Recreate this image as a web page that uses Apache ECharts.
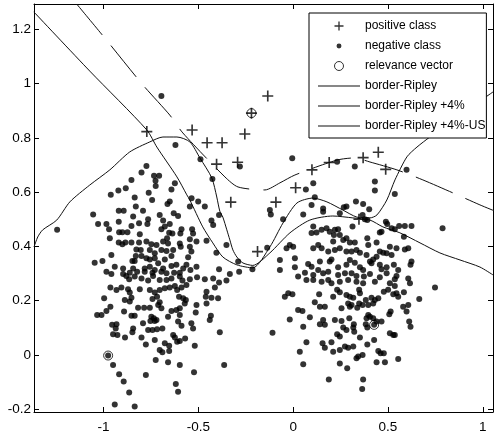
<!DOCTYPE html>
<html>
<head>
<meta charset="utf-8">
<script src="https://cdn.jsdelivr.net/npm/echarts@6/dist/echarts.min.js"></script>
<style>
  html, body { margin: 0; padding: 0; background: #fff; }
  #chart { width: 496px; height: 437px; }
</style>
</head>
<body>
<div id="chart"></div>
<script>
// Axis ticks
const xTicks = [-1, -0.5, 0, 0.5, 1];
const yTicks = [-0.2, 0, 0.2, 0.4, 0.6, 0.8, 1, 1.2];

// Positive class samples (+)
const positiveClass = [
  [-0.772,0.823],[-0.533,0.829],[-0.454,0.782],[-0.375,0.782],[-0.255,0.814],
  [-0.404,0.703],[-0.293,0.710],[-0.329,0.563],[-0.091,0.563],[0.013,0.616],
  [0.099,0.682],[0.190,0.709],[-0.188,0.381],[-0.220,0.891],[-0.134,0.954],
  [0.347,0.500],[0.449,0.747],[0.488,0.684],[0.369,0.727]
];

// Negative class samples (.)
const negativeClass = [
  [-0.695,0.954],
  [-0.621,0.774],[-0.774,0.696],[-0.800,0.672],[-0.734,0.660],[-0.707,0.660],[-0.726,0.642],
  [-0.853,0.645],[-0.624,0.633],[-0.725,0.623],[-0.922,0.606],[-0.883,0.614],[-0.962,0.590],
  [-0.762,0.598],[-0.642,0.610],[-0.836,0.580],[-0.744,0.571],[-1.245,0.461],
  [-0.536,0.577],[-0.489,0.721],[-0.426,0.648],[-0.281,0.694],[-0.005,0.725],[-0.123,0.534],
  [-0.118,0.518],[-0.137,0.395],[0.232,0.712],[0.325,0.694],[0.598,0.682],[-0.109,0.082],
  [-1.055,0.518],[-0.920,0.531],[-0.894,0.531],[-0.830,0.547],[-0.792,0.531],[-0.844,0.510],
  [-0.765,0.500],[-0.704,0.516],[-0.663,0.556],[-0.651,0.565],[-0.630,0.522],[-0.607,0.512],
  [-0.545,0.547],[-0.501,0.565],[-0.466,0.547],[-0.391,0.516],[-1.029,0.483],[-0.985,0.483],
  [-0.971,0.463],[-0.920,0.491],[-0.853,0.475],[-0.813,0.485],[-0.769,0.483],[-0.686,0.495],
  [-0.677,0.473],[-0.651,0.483],[-0.589,0.463],[-0.528,0.448],[-0.431,0.495],[-0.422,0.479],
  [-0.918,0.452],[-0.901,0.452],[-0.874,0.452],[-0.809,0.445],[-0.967,0.430],[-0.695,0.463],
  [-0.654,0.450],[-0.637,0.448],[-0.595,0.448],[-0.533,0.463],[-0.920,0.414],[-0.901,0.408],
  [-0.885,0.414],[-0.853,0.414],[-0.813,0.414],[-0.774,0.418],[-0.748,0.408],[-0.721,0.405],
  [-0.686,0.418],[-0.665,0.430],[-0.660,0.411],[-0.598,0.411],[-0.545,0.426],[-0.510,0.418],
  [-0.457,0.421],[-0.352,0.405],[-0.827,0.389],[-0.804,0.387],[-0.756,0.387],[-0.730,0.375],
  [-0.695,0.387],[-0.668,0.383],[-0.633,0.387],[-0.593,0.399],[-0.545,0.399],[-0.959,0.368],
  [-0.830,0.365],[-0.800,0.365],[-0.774,0.356],[-0.756,0.352],[-0.730,0.356],[-0.677,0.352],
  [-0.642,0.365],[-0.554,0.360],[-0.537,0.381],[-0.405,0.377],[-1.047,0.340],[-1.006,0.346],
  [-0.848,0.346],[-0.836,0.346],[-0.941,0.325],[-0.897,0.319],[-0.844,0.319],[-0.823,0.307],
  [-0.783,0.319],[-0.756,0.325],[-0.712,0.338],[-0.686,0.319],[-0.642,0.328],[-0.616,0.332],
  [-0.580,0.319],[-0.563,0.332],[-0.542,0.313],[-0.510,0.325],[-0.391,0.316],[-0.290,0.344],
  [-0.285,0.307],[-0.215,0.316],[-0.985,0.307],[-0.959,0.298],[-0.897,0.298],[-0.862,0.303],
  [-0.783,0.307],[-0.742,0.303],[-0.730,0.313],[-0.695,0.307],[-0.668,0.301],[-0.628,0.303],
  [-0.598,0.303],[-0.880,0.291],[-0.865,0.279],[-0.836,0.289],[-0.800,0.282],[-0.765,0.274],
  [-0.739,0.291],[-0.704,0.276],[-0.668,0.276],[-0.642,0.282],[-0.598,0.289],[-0.584,0.274],
  [-0.545,0.279],[-0.507,0.286],[-0.466,0.279],[-0.422,0.282],[-0.352,0.274],[-0.334,0.298],
  [-0.964,0.249],[-0.932,0.239],[-0.906,0.249],[-0.871,0.242],[-0.862,0.230],[-0.809,0.242],
  [-0.756,0.239],[-0.730,0.230],[-0.704,0.239],[-0.677,0.246],[-0.651,0.249],[-0.624,0.254],
  [-0.612,0.239],[-0.589,0.249],[-0.563,0.258],[-0.457,0.233],[-0.413,0.249],[-0.391,0.267],
  [-0.997,0.209],[-0.888,0.203],[-0.862,0.197],[-0.853,0.211],[-0.742,0.206],[-0.718,0.215],
  [-0.704,0.194],[-0.695,0.172],[-0.712,0.184],[-0.602,0.215],[-0.580,0.209],[-0.566,0.203],
  [-0.572,0.190],[-0.598,0.172],[-0.616,0.166],[-0.642,0.162],[-0.461,0.215],[-0.431,0.211],
  [-0.396,0.209],[-0.510,0.184],[-0.514,0.157],[-0.457,0.190],[-1.034,0.147],[-1.011,0.147],
  [-0.985,0.162],[-0.964,0.178],[-0.892,0.160],[-0.853,0.145],[-0.836,0.145],[-0.818,0.174],
  [-0.786,0.174],[-0.756,0.174],[-0.748,0.141],[-0.735,0.135],[-0.730,0.125],[-0.721,0.129],
  [-0.753,0.125],[-0.660,0.141],[-0.598,0.147],[-0.607,0.123],[-0.589,0.108],[-0.537,0.117],
  [-0.434,0.145],[-0.440,0.129],[-0.955,0.111],[-0.932,0.113],[-0.936,0.098],[-0.950,0.076],
  [-0.927,0.074],[-0.844,0.098],[-0.848,0.084],[-0.792,0.117],[-0.765,0.092],[-0.742,0.092],
  [-0.718,0.095],[-0.690,0.098],[-0.633,0.074],[-0.624,0.064],[-0.612,0.049],[-0.598,0.052],
  [-0.570,0.061],[-0.528,0.098],[-0.887,0.064],[-0.800,0.064],[-0.730,0.055],[-0.777,0.039],
  [-0.677,0.043],[-0.654,0.034],[-0.519,0.034],[-0.387,0.084],[-0.704,0.018],[-0.690,0.010],
  [-0.654,0.015],[-0.725,-0.018],[-0.660,-0.027],[-0.598,-0.037],[-0.950,-0.037],[-0.976,-0.002],
  [-0.364,-0.037],[-0.523,-0.064],[-0.918,-0.071],[-0.777,-0.074],
  [-0.894,-0.098],[-0.865,-0.138],[-0.941,-0.182],[-0.836,-0.190],[-0.619,-0.107],[-0.607,-0.135],
  [0.285,-0.049],[0.369,-0.090],[0.364,-0.125],[0.188,-0.090],
  [-0.026,0.227],[-0.004,0.224],[-0.044,0.215],[0.137,0.224],[0.211,0.215],[0.232,0.240],
  [0.246,0.231],[0.281,0.221],[0.299,0.215],[0.290,0.190],[0.308,0.184],[0.317,0.211],
  [0.348,0.240],[0.352,0.227],[0.383,0.203],[0.413,0.211],[0.431,0.203],[0.449,0.209],
  [0.478,0.233],[0.501,0.240],[0.528,0.224],[0.545,0.227],[0.554,0.215],[0.584,0.231],
  [0.665,0.206],[0.114,0.194],[0.141,0.178],[0.167,0.178],[0.255,0.172],[0.299,0.178],
  [0.338,0.174],[0.366,0.184],[0.348,0.190],[0.396,0.184],[0.422,0.190],[0.026,0.166],
  [0.049,0.162],[0.088,0.139],[-0.018,0.131],[0.158,0.129],[0.220,0.129],[0.255,0.125],
  [0.296,0.135],[0.320,0.113],[0.167,0.111],[0.141,0.113],[0.264,0.101],[0.281,0.092],
  [0.317,0.101],[0.322,0.086],[0.387,0.135],[0.396,0.147],[0.405,0.141],[0.422,0.135],
  [0.383,0.113],[0.391,0.101],[0.440,0.123],[0.466,0.123],[0.514,0.160],[0.507,0.150],
  [0.580,0.178],[0.607,0.184],[0.598,0.160],[0.612,0.123],[0.619,0.104],[0.053,0.104],
  [0.232,0.076],[0.246,0.068],[0.352,0.064],[0.427,0.055],[0.391,0.039],[0.510,0.080],
  [0.528,0.074],[0.536,0.074],[0.070,0.047],[0.155,0.043],[0.167,0.027],[0.202,0.047],
  [0.273,0.031],[0.290,0.027],[0.317,0.031],[0.211,0.012],[0.246,0.018],[0.035,0.012],
  [0.334,-0.012],[0.343,-0.006],[0.366,0.000],[0.449,0.015],[0.461,0.006],[0.478,0.006],
  [0.554,-0.015],[0.053,-0.034],[0.246,-0.031],[0.440,-0.027],[0.484,-0.027],[0.427,0.111],
  [0.067,0.610],[0.106,0.633],[0.114,0.581],[0.097,0.553],[0.158,0.540],[0.158,0.528],
  [0.053,0.518],[-0.053,0.500],[0.246,0.522],[0.267,0.544],[0.281,0.547],[0.331,0.565],
  [0.369,0.556],[0.401,0.537],[0.366,0.516],[0.378,0.500],[0.391,0.497],[0.313,0.473],
  [0.431,0.606],[0.431,0.639],[0.536,0.593],[0.489,0.491],[0.496,0.483],[0.519,0.467],
  [0.536,0.463],[0.559,0.475],[0.589,0.475],[0.624,0.475],[0.788,0.467],[0.106,0.473],
  [0.097,0.449],[0.123,0.451],[0.150,0.461],[0.176,0.467],[0.193,0.454],[0.220,0.461],
  [0.237,0.463],[0.215,0.442],[0.246,0.442],[0.264,0.424],[0.211,0.418],[0.281,0.430],
  [0.299,0.414],[0.325,0.414],[0.391,0.430],[0.457,0.451],[0.466,0.454],[0.396,0.405],
  [0.440,0.414],[0.457,0.381],[0.475,0.377],[0.493,0.375],[0.519,0.368],[0.510,0.399],
  [0.545,0.393],[0.584,0.436],[0.589,0.389],[0.607,0.393],[0.106,0.393],[0.150,0.393],
  [0.132,0.405],[0.185,0.381],[0.220,0.387],[0.246,0.393],[0.281,0.381],[0.308,0.381],
  [0.334,0.387],[0.352,0.377],[0.387,0.368],[0.422,0.352],[0.413,0.338],[0.440,0.362],
  [-0.070,0.350],[0.009,0.356],[-0.018,0.405],[-0.035,0.393],[0.000,0.399],[0.079,0.335],
  [0.097,0.325],[0.141,0.344],[0.193,0.344],[0.202,0.352],[0.237,0.323],[0.281,0.332],
  [0.299,0.350],[0.325,0.340],[0.352,0.323],[0.369,0.313],[0.405,0.344],[0.457,0.332],
  [0.466,0.316],[0.493,0.323],[0.531,0.332],[0.554,0.313],[0.624,0.344],[0.619,0.332],
  [-0.070,0.313],[0.009,0.323],[0.062,0.303],[0.106,0.295],[0.132,0.313],[0.158,0.301],
  [0.185,0.307],[0.237,0.295],[0.273,0.301],[0.308,0.301],[0.334,0.291],[0.373,0.289],
  [0.405,0.298],[0.457,0.286],[0.493,0.301],[0.545,0.291],[0.536,0.279],[0.607,0.282],
  [0.026,0.289],[0.070,0.276],[0.106,0.276],[0.150,0.270],[0.185,0.276],[0.202,0.264],
  [0.246,0.270],[0.290,0.276],[0.334,0.270],[0.369,0.264],[0.431,0.270],[0.510,0.264],
  [0.536,0.254],[0.616,0.264],[0.748,0.249]
];

// Relevance vectors (o)
const relevanceVectors = [[-0.220,0.891],[-0.976,-0.002],[0.427,0.111]];

// Decision borders
const borderRipley = [
  [-1.367,0.398],[-1.347,0.435],[-1.321,0.461],[-1.247,0.497],[-1.178,0.564],[-1.073,0.626],
  [-0.967,0.682],[-0.862,0.748],[-0.756,0.785],[-0.687,0.803],[-0.613,0.803],[-0.545,0.785],
  [-0.492,0.726],[-0.429,0.652],[-0.403,0.582],[-0.387,0.530],[-0.371,0.508],[-0.350,0.461],
  [-0.334,0.424],[-0.318,0.387],[-0.297,0.361],[-0.265,0.339],[-0.213,0.330],[-0.123,0.376],
  [-0.017,0.450],[0.088,0.497],[0.209,0.512],[0.315,0.505],[0.405,0.497],[0.473,0.472],
  [0.563,0.450],[0.669,0.413],[0.774,0.376],[0.880,0.350],[0.985,0.324],[1.054,0.295]
];
const borderRipley4 = [
  [-1.368,1.264],[-1.073,1.046],[-0.772,0.829],[-0.719,0.766],[-0.613,0.656],[-0.561,0.590],
  [-0.545,0.571],[-0.477,0.472],[-0.424,0.413],[-0.371,0.361],[-0.297,0.332],[-0.213,0.321],
  [-0.123,0.398],[-0.054,0.486],[0.020,0.560],[0.104,0.578],[0.178,0.564],[0.262,0.534],
  [0.336,0.508],[0.405,0.505],[0.442,0.516],[0.494,0.571],[0.537,0.645],[0.600,0.730],
  [0.653,0.766],[0.721,0.803],[0.880,0.884],[1.054,0.969]
];
const borderRipley4US = [
  [-1.142,1.293],[-0.994,1.168],[-0.793,0.995],[-0.651,0.884],[-0.582,0.818],[-0.360,0.656],
  [-0.291,0.619],[-0.149,0.608],[-0.070,0.634],[0.009,0.663],[0.231,0.718],[0.325,0.726],
  [0.405,0.711],[0.547,0.682],[0.684,0.645],[0.843,0.597],[0.985,0.553],[1.075,0.527]
];

const FONT = 'Liberation Sans, Arial, Helvetica, sans-serif';
const PLUS = 'path://M8.5,0h3v8.5h8.5v3h-8.5v8.5h-3v-8.5h-8.5v-3h8.5z';
const DOT_ICON = 'path://M0,0M20,20M10,4.5A5.5,5.5 0 1,1 9.99,4.5Z';
const LINE_ICON = 'path://M0,0h42v1h-42z';

const chart = echarts.init(document.getElementById('chart'), null, { renderer: 'canvas' });

function xAxisDef(pos, labels) {
  return {
    type: 'value', position: pos, min: -1.367, max: 1.054,
    axisLine: { onZero: false, lineStyle: { color: '#000', width: 1 } },
    axisTick: { inside: true, length: 5, customValues: xTicks, lineStyle: { color: '#000' } },
    axisLabel: { show: labels, customValues: xTicks, color: '#000', fontSize: 13.5, fontFamily: FONT, margin: 8 },
    splitLine: { show: false }
  };
}
function yAxisDef(pos, labels) {
  return {
    type: 'value', position: pos, min: -0.21, max: 1.293,
    axisLine: { onZero: false, lineStyle: { color: '#000', width: 1 } },
    axisTick: { inside: true, length: 5, customValues: yTicks, lineStyle: { color: '#000' } },
    axisLabel: { show: labels, customValues: yTicks, color: '#000', fontSize: 13.5, fontFamily: FONT, margin: 3 },
    splitLine: { show: false }
  };
}

const lineSeries = (name, data, type) => ({
  name, type: 'line', data, symbol: 'none', showSymbol: false, smooth: 0.25,
  lineStyle: { color: '#111', width: 1, type }, itemStyle: { color: '#111' },
  z: 2, silent: true
});

chart.setOption({
  animation: false,
  backgroundColor: '#fff',
  grid: { left: 34, right: 3, top: 4, bottom: 25 },
  xAxis: [xAxisDef('bottom', true), xAxisDef('top', false)],
  yAxis: [yAxisDef('left', true), yAxisDef('right', false)],
  legend: {
    orient: 'vertical', left: 309, top: 13,
    padding: [6, 1, 5, 9], itemWidth: 42, itemHeight: 9, itemGap: 6,
    backgroundColor: '#fff', borderColor: '#000', borderWidth: 1, borderRadius: 0,
    selectedMode: false,
    textStyle: { fontSize: 12, fontFamily: FONT, color: '#000', lineHeight: 14 },
    data: [
      { name: 'positive class' },
      { name: 'negative class', icon: DOT_ICON },
      { name: 'relevance vector', itemStyle: { color: 'rgba(0,0,0,0)', borderColor: '#000', borderWidth: 1 } },
      { name: 'border-Ripley', icon: LINE_ICON },
      { name: 'border-Ripley +4%', icon: LINE_ICON },
      { name: 'border-Ripley +4%-US', icon: LINE_ICON }
    ]
  },
  series: [
    {
      name: 'positive class', type: 'scatter', data: positiveClass,
      symbol: PLUS, symbolSize: 11, itemStyle: { color: '#000' }, z: 4, silent: true
    },
    {
      name: 'negative class', type: 'scatter', data: negativeClass,
      symbol: 'circle', symbolSize: 6, itemStyle: { color: '#000' }, z: 3, silent: true
    },
    {
      name: 'relevance vector', type: 'scatter', data: relevanceVectors,
      symbol: 'circle', symbolSize: 9,
      itemStyle: { color: 'rgba(0,0,0,0)', borderColor: '#000', borderWidth: 1 }, z: 5, silent: true
    },
    lineSeries('border-Ripley', borderRipley, 'solid'),
    lineSeries('border-Ripley +4%', borderRipley4, 'solid'),
    lineSeries('border-Ripley +4%-US', borderRipley4US, [40, 14])
  ]
});
</script>
</body>
</html>
